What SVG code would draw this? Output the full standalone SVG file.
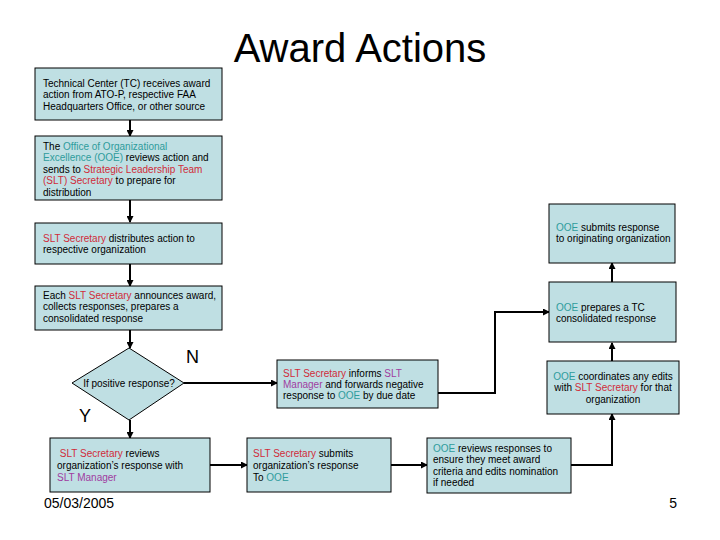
<svg xmlns="http://www.w3.org/2000/svg" width="720" height="540" viewBox="0 0 720 540">
<style>
.box{fill:#BFDFE3;stroke:#000;stroke-width:1}
text{font-family:"Liberation Sans",Arial,sans-serif;fill:#000}
.t{font-size:10px}
.o{fill:#2E9C9C}
.r{fill:#D02C3A}
.p{fill:#A03CA0}
.c{stroke:#000;stroke-width:2;fill:none;marker-end:url(#ah)}
</style>
<defs>
<marker id="ah" markerUnits="userSpaceOnUse" markerWidth="7" markerHeight="7" refX="6" refY="3.5" orient="auto">
<path d="M0,0 L7,3.5 L0,7 z" fill="#000"/>
</marker>
</defs>
<rect width="720" height="540" fill="#fff"/>
<text x="360" y="62" font-size="40" text-anchor="middle">Award Actions</text>

<g id="connectors">
<path class="c" d="M130,120 V136"/>
<path class="c" d="M130,200 V222"/>
<path class="c" d="M130,264 V286"/>
<path class="c" d="M130,330 V348"/>
<path class="c" d="M130,420 V438"/>
<path class="c" d="M184,383 H277"/>
<path class="c" d="M210,465 H247"/>
<path class="c" d="M391,465 H427"/>
<path class="c" d="M571,465 H612 V414"/>
<path class="c" d="M612,361 V343"/>
<path class="c" d="M612,282 V263"/>
<path class="c" d="M438,393 H495 V312 H549"/>
</g>

<g id="n1">
<rect class="box" x="35" y="68" width="187" height="52"/>
<text class="t" x="43" y="86.5">Technical Center (TC) receives award</text>
<text class="t" x="43" y="98">action from ATO-P, respective FAA</text>
<text class="t" x="43" y="109.5">Headquarters Office, or other source</text>
</g>

<g id="n2">
<rect class="box" x="35" y="136" width="187" height="64"/>
<text class="t" x="43" y="149.5">The <tspan class="o">Office of Organizational</tspan></text>
<text class="t" x="43" y="161"><tspan class="o">Excellence (OOE)</tspan> reviews action and</text>
<text class="t" x="43" y="172.5">sends to <tspan class="r">Strategic Leadership Team</tspan></text>
<text class="t" x="43" y="184"><tspan class="r">(SLT) Secretary</tspan> to prepare for</text>
<text class="t" x="43" y="195.5">distribution</text>
</g>

<g id="n3">
<rect class="box" x="35" y="223" width="187" height="41"/>
<text class="t" x="43" y="241.5"><tspan class="r">SLT Secretary</tspan> distributes action to</text>
<text class="t" x="43" y="253">respective organization</text>
</g>

<g id="n4">
<rect class="box" x="35" y="286" width="187" height="44"/>
<text class="t" x="43" y="298.5">Each <tspan class="r">SLT Secretary</tspan> announces award,</text>
<text class="t" x="43" y="310">collects responses, prepares a</text>
<text class="t" x="43" y="321.5">consolidated response</text>
</g>

<g id="decision">
<path class="box" d="M129,348 L184,383 L129,420 L72,383 z"/>
<text class="t" x="129" y="386.5" text-anchor="middle">If positive response?</text>
</g>
<text x="186" y="363" font-size="18">N</text>
<text x="79" y="422" font-size="18">Y</text>

<g id="n5">
<rect class="box" x="50" y="438" width="160" height="54"/>
<text class="t" x="57" y="456.5" xml:space="preserve"> <tspan class="r">SLT Secretary</tspan> reviews</text>
<text class="t" x="57" y="469">organization’s response with</text>
<text class="t" x="57" y="481"><tspan class="p">SLT Manager</tspan></text>
</g>

<g id="n6">
<rect class="box" x="247" y="438" width="144" height="54"/>
<text class="t" x="253" y="456.5"><tspan class="r">SLT Secretary</tspan> submits</text>
<text class="t" x="253" y="469">organization’s response</text>
<text class="t" x="253" y="481">To <tspan class="o">OOE</tspan></text>
</g>

<g id="n7">
<rect class="box" x="427" y="438" width="144" height="55"/>
<text class="t" x="433" y="451.5"><tspan class="o">OOE</tspan> reviews responses to</text>
<text class="t" x="433" y="463">ensure they meet award</text>
<text class="t" x="433" y="474.5">criteria and edits nomination</text>
<text class="t" x="433" y="486">if needed</text>
</g>

<g id="n8">
<rect class="box" x="547" y="361" width="132" height="53"/>
<text class="t" x="613" y="379.5" text-anchor="middle"><tspan class="o">OOE</tspan> coordinates any edits</text>
<text class="t" x="613" y="391" text-anchor="middle">with <tspan class="r">SLT Secretary</tspan> for that</text>
<text class="t" x="613" y="403" text-anchor="middle">organization</text>
</g>

<g id="n9">
<rect class="box" x="277" y="360" width="161" height="48"/>
<text class="t" x="283" y="376.5"><tspan class="r">SLT Secretary</tspan> informs <tspan class="p">SLT</tspan></text>
<text class="t" x="283" y="387.5"><tspan class="p">Manager</tspan> and forwards negative</text>
<text class="t" x="283" y="398.5">response to <tspan class="o">OOE</tspan> by due date</text>
</g>

<g id="n10">
<rect class="box" x="549" y="282" width="127" height="60"/>
<text class="t" x="556" y="310.5"><tspan class="o">OOE</tspan> prepares a TC</text>
<text class="t" x="556" y="322">consolidated response</text>
</g>

<g id="n11">
<rect class="box" x="549" y="204" width="126" height="59"/>
<text class="t" x="556" y="230.5"><tspan class="o">OOE</tspan> submits response</text>
<text class="t" x="556" y="242">to originating organization</text>
</g>

<text x="44" y="508" font-size="14">05/03/2005</text>
<text x="677" y="508" font-size="14" text-anchor="end">5</text>
</svg>
